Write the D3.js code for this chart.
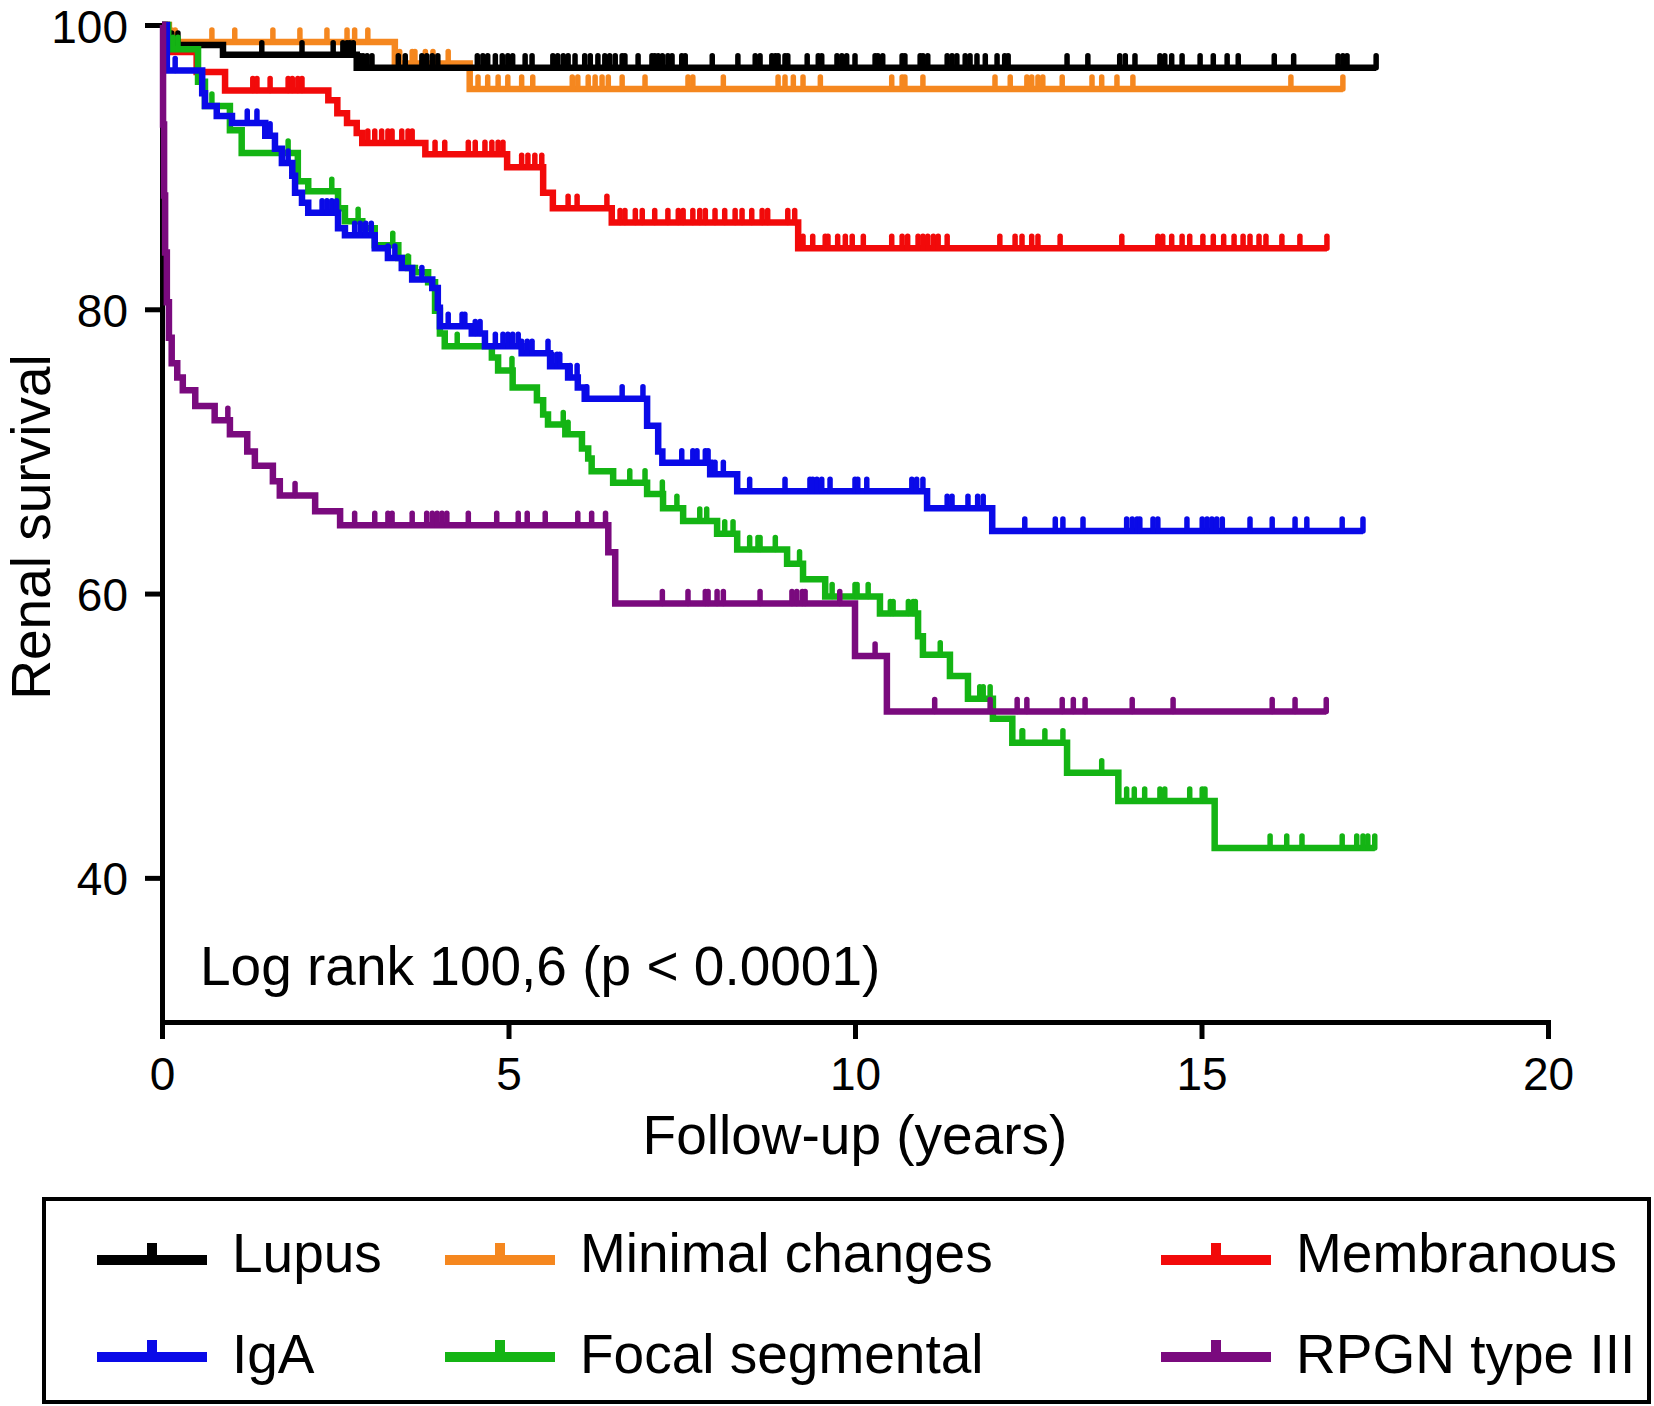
<!DOCTYPE html>
<html>
<head>
<meta charset="utf-8">
<script src="https://cdn.jsdelivr.net/npm/d3@7"></script>
<style>
	body { margin: 0; background: #fff; }
	text { font-family: 'Liberation Sans', Arial, Helvetica, sans-serif; }
</style>
</head>
<body>
<svg id="chart"></svg>
<script>
const groups = ['Lupus', 'Minimal changes', 'Membranous', 'IgA', 'Focal segmental', 'RPGN type III']
const colours = ['#000000', '#f5871f', '#f20a0a', '#0a0ae8', '#14b414', '#7a0a7e']

const xTicks = [0, 5, 10, 15, 20]
const yTicks = [40, 60, 80, 100]
const xTitle = 'Follow-up (years)'
const yTitle = 'Renal survival'
const note = 'Log rank 100,6 (p < 0.0001)'

// Kaplan-Meier steps: time of each drop (years) and survival (%) after it
const lupusTimes = [0, 0.04, 0.88, 2.81]
const lupusSurv = [100, 98.6, 97.9, 97.0]
const lupusEnd = 17.52
const lupusCensored = [0.09, 0.14, 0.23, 1.44, 2.02, 2.47, 2.61, 2.67, 2.71, 2.76, 2.86, 2.9, 2.96, 3.03, 3.41, 3.51, 3.75, 3.82, 3.9, 3.98, 4.55, 4.63, 4.7, 4.81, 4.91, 4.99, 5.06, 5.24, 5.34, 5.64, 5.71, 5.79, 5.86, 5.96, 6.1, 6.18, 6.29, 6.39, 6.46, 6.54, 6.64, 6.68, 6.87, 7.07, 7.11, 7.16, 7.22, 7.3, 7.36, 7.5, 7.55, 7.94, 8.31, 8.56, 8.63, 8.8, 8.85, 8.89, 8.99, 9.03, 9.31, 9.47, 9.52, 9.74, 9.81, 9.88, 10.0, 10.29, 10.33, 10.4, 10.68, 10.72, 10.94, 10.98, 11.05, 11.33, 11.4, 11.47, 11.59, 11.66, 11.76, 11.88, 12.05, 12.16, 12.21, 13.06, 13.36, 13.82, 13.9, 14.04, 14.4, 14.47, 14.57, 14.72, 14.98, 15.17, 15.37, 15.53, 16.05, 16.33, 16.97, 17.04, 17.1, 17.52]

const minimalTimes = [0, 0.1, 3.36, 4.44]
const minimalSurv = [100, 98.8, 97.3, 95.5]
const minimalEnd = 17.04
const minimalCensored = [0.14, 0.19, 0.72, 1.05, 1.6, 1.99, 2.38, 2.67, 2.78, 2.97, 3.43, 3.61, 3.65, 3.8, 3.91, 4.13, 4.56, 4.7, 4.85, 4.99, 5.19, 5.35, 5.92, 6.0, 6.15, 6.25, 6.35, 6.44, 6.64, 6.97, 7.59, 7.66, 8.1, 8.89, 8.99, 9.11, 9.25, 9.5, 10.53, 10.68, 10.72, 10.98, 12.02, 12.24, 12.48, 12.55, 12.64, 12.71, 12.99, 13.42, 13.56, 13.78, 14.01, 16.29, 17.04]

const membranousTimes = [0, 0.07, 0.5, 0.91, 2.4, 2.53, 2.67, 2.81, 2.89, 3.8, 4.98, 5.5, 5.64, 6.49, 9.18]
const membranousSurv = [100, 98.1, 96.7, 95.4, 94.7, 93.8, 93.1, 92.4, 91.7, 90.9, 90.0, 88.2, 87.1, 86.1, 84.3]
const membranousEnd = 16.81
const membranousCensored = [1.31, 1.37, 1.56, 1.82, 1.88, 1.96, 2.02, 2.97, 3.07, 3.17, 3.26, 3.32, 3.46, 3.55, 3.61, 3.94, 4.08, 4.42, 4.52, 4.66, 4.76, 4.85, 4.92, 5.19, 5.28, 5.38, 5.48, 5.86, 5.99, 6.42, 6.61, 6.68, 6.83, 6.93, 7.11, 7.3, 7.45, 7.52, 7.66, 7.76, 7.84, 7.98, 8.12, 8.27, 8.37, 8.51, 8.66, 8.74, 9.03, 9.13, 9.25, 9.39, 9.57, 9.61, 9.75, 9.86, 9.96, 10.12, 10.53, 10.68, 10.76, 10.91, 10.98, 11.05, 11.13, 11.2, 11.33, 12.09, 12.31, 12.41, 12.55, 12.64, 12.96, 13.85, 14.37, 14.44, 14.57, 14.72, 14.83, 15.02, 15.17, 15.32, 15.47, 15.6, 15.7, 15.83, 15.93, 16.16, 16.42, 16.81]

const igaTimes = [0, 0.07, 0.58, 0.62, 0.79, 1.01, 1.49, 1.63, 1.73, 1.88, 1.92, 2.02, 2.11, 2.54, 2.64, 3.07, 3.26, 3.46, 3.61, 3.9, 3.98, 4.01, 4.47, 4.66, 5.19, 5.6, 5.86, 6.0, 6.1, 7.0, 7.16, 7.22, 7.91, 8.3, 11.04, 11.98]
const igaSurv = [100, 96.8, 95.2, 94.3, 93.6, 93.1, 92.2, 91.3, 90.3, 89.4, 88.2, 87.5, 86.8, 85.7, 85.2, 84.3, 83.6, 82.9, 82.1, 81.5, 80.1, 78.8, 78.3, 77.4, 76.9, 76.0, 75.2, 74.5, 73.7, 71.8, 70.0, 69.2, 68.4, 67.2, 66.0, 64.4]
const igaEnd = 17.33
const igaCensored = [0.19, 1.23, 1.37, 1.5, 1.56, 1.82, 1.92, 2.31, 2.38, 2.45, 2.52, 2.78, 2.86, 2.94, 3.02, 3.26, 3.36, 3.75, 4.13, 4.33, 4.37, 4.52, 4.59, 4.81, 4.92, 4.99, 5.06, 5.14, 5.19, 5.27, 5.34, 5.57, 5.63, 5.7, 5.74, 5.89, 5.99, 6.13, 6.64, 6.94, 7.5, 7.66, 7.72, 7.84, 7.88, 7.98, 8.1, 8.48, 8.99, 9.35, 9.39, 9.45, 9.52, 9.64, 10.0, 10.04, 10.17, 10.82, 10.89, 10.98, 11.33, 11.4, 11.63, 11.77, 11.85, 12.45, 12.89, 13.0, 13.29, 13.92, 14.0, 14.07, 14.11, 14.3, 14.37, 14.79, 15.01, 15.08, 15.15, 15.22, 15.3, 15.7, 16.02, 16.35, 16.52, 17.03, 17.33]

const focalTimes = [0, 0.09, 0.52, 0.62, 0.98, 1.15, 1.96, 2.11, 2.54, 2.64, 2.89, 3.07, 3.41, 3.55, 3.65, 3.84, 3.94, 4.01, 4.08, 4.76, 4.85, 5.06, 5.41, 5.5, 5.57, 5.82, 6.06, 6.15, 6.2, 6.51, 7.0, 7.23, 7.52, 8.01, 8.3, 9.02, 9.25, 9.57, 10.36, 10.91, 10.98, 11.37, 11.63, 11.99, 12.27, 13.06, 13.8, 15.19]
const focalSurv = [100, 98.3, 96.0, 94.3, 92.6, 91.0, 89.0, 88.3, 87.1, 86.2, 85.7, 84.5, 83.6, 82.9, 82.6, 81.9, 79.9, 78.3, 77.4, 76.6, 75.7, 74.5, 73.6, 72.6, 71.9, 71.2, 70.2, 69.5, 68.6, 67.8, 67.0, 66.0, 65.1, 64.2, 63.1, 62.1, 61.0, 59.8, 58.6, 57.0, 55.7, 54.2, 52.6, 51.2, 49.5, 47.4, 45.4, 42.1]
const focalEnd = 17.5
const focalCensored = [0.16, 0.23, 0.72, 0.98, 1.82, 2.45, 2.83, 3.33, 3.55, 4.26, 5.05, 5.79, 5.86, 6.75, 6.97, 7.22, 7.43, 7.76, 7.86, 8.12, 8.24, 8.48, 8.6, 8.63, 8.85, 9.2, 9.67, 10.0, 10.03, 10.19, 10.51, 10.55, 10.77, 10.84, 10.87, 11.23, 11.8, 11.85, 11.95, 12.41, 12.42, 12.74, 13.0, 13.56, 13.92, 14.03, 14.18, 14.4, 14.47, 14.83, 15.01, 15.05, 15.99, 16.23, 16.45, 17.03, 17.24, 17.33, 17.4, 17.5]

const rpgnTimes = [0, 0.015, 0.03, 0.045, 0.07, 0.1, 0.14, 0.22, 0.3, 0.48, 0.76, 0.98, 1.23, 1.34, 1.6, 1.7, 2.21, 2.57, 6.44, 6.54, 10.0, 10.46]
const rpgnSurv = [100, 93, 88, 84, 80.5, 78, 76.2, 75.2, 74.3, 73.2, 72.2, 71.2, 70.0, 69.0, 67.9, 66.9, 65.8, 64.8, 62.9, 59.3, 55.6, 51.7]
const rpgnEnd = 16.8
const rpgnCensored = [0.95, 1.92, 2.78, 3.07, 3.26, 3.32, 3.61, 3.82, 3.9, 3.97, 4.04, 4.11, 4.42, 4.83, 5.14, 5.27, 5.53, 6.0, 6.2, 6.4, 7.22, 7.59, 7.84, 7.88, 8.01, 8.1, 8.63, 9.09, 9.16, 9.24, 9.28, 9.78, 10.29, 11.15, 11.95, 12.34, 12.48, 12.99, 13.15, 13.32, 14.0, 14.59, 16.02, 16.35, 16.8]

var series = [
	{ times: lupusTimes, surv: lupusSurv, end: lupusEnd, censored: lupusCensored },
	{ times: minimalTimes, surv: minimalSurv, end: minimalEnd, censored: minimalCensored },
	{ times: membranousTimes, surv: membranousSurv, end: membranousEnd, censored: membranousCensored },
	{ times: igaTimes, surv: igaSurv, end: igaEnd, censored: igaCensored },
	{ times: focalTimes, surv: focalSurv, end: focalEnd, censored: focalCensored },
	{ times: rpgnTimes, surv: rpgnSurv, end: rpgnEnd, censored: rpgnCensored },
].map((s, i) => ({ ...s, name: groups[i], colour: colours[i] }))

var width = 1654,
	height = 1406

var svg = d3.select('#chart').attr('width', width).attr('height', height)

var x = d3.scaleLinear().domain([0, 20]).range([162, 1548])
var y = d3.scaleLinear().domain([30, 100]).range([1020, 25])

// axes
var yAxis = svg
	.append('g')
	.attr('transform', 'translate(162,0)')
	.call(d3.axisLeft(y).tickValues(yTicks).tickSize(17).tickPadding(17).tickSizeOuter(0))
var xAxis = svg
	.append('g')
	.attr('transform', 'translate(0,1022)')
	.call(d3.axisBottom(x).tickValues(xTicks).tickSize(17).tickPadding(18).tickSizeOuter(0))

;[xAxis, yAxis].forEach((a) => {
	a.select('.domain').attr('stroke', '#000').attr('stroke-width', 5).attr('stroke-linecap', 'square')
	a.selectAll('.tick line').attr('stroke', '#000').attr('stroke-width', 5)
	a.selectAll('.tick text')
		.attr('fill', '#000')
		.attr('font-size', 46)
		.attr('font-family', "'Liberation Sans', Arial, sans-serif")
})
yAxis.selectAll('.tick text').attr('dy', '0.37em')

svg.append('text')
	.attr('x', x(10))
	.attr('y', 1154)
	.attr('text-anchor', 'middle')
	.attr('font-size', 55)
	.text(xTitle)

svg.append('text')
	.attr('transform', 'translate(50,527) rotate(-90)')
	.attr('text-anchor', 'middle')
	.attr('font-size', 55)
	.text(yTitle)

svg.append('text').attr('x', 200).attr('y', 985).attr('font-size', 55).text(note)

// curves
var line = d3
	.line()
	.x((d) => x(d[0]))
	.y((d) => y(d[1]))
	.curve(d3.curveStepAfter)

function levelAt(s, t) {
	var i = d3.bisectRight(s.times, t) - 1
	return s.surv[Math.max(i, 0)]
}

var drawOrder = [1, 0, 2, 4, 3, 5]
drawOrder.forEach((k) => {
	var s = series[k]
	var pts = s.times.map((t, i) => [t, s.surv[i]])
	pts.push([s.end, s.surv[s.surv.length - 1]])

	var g = svg.append('g').attr('class', 'curve')
	g.append('path')
		.attr('d', line(pts))
		.attr('fill', 'none')
		.attr('stroke', s.colour)
		.attr('stroke-width', 6.5)

	g.selectAll('.censor')
		.data(s.censored)
		.join('line')
		.attr('class', 'censor')
		.attr('x1', (d) => x(d))
		.attr('x2', (d) => x(d))
		.attr('y1', (d) => y(levelAt(s, d)))
		.attr('y2', (d) => y(levelAt(s, d)) - 12)
		.attr('stroke', s.colour)
		.attr('stroke-width', 5.5)
		.attr('stroke-linecap', 'round')
})

// legend
var legendX = [97, 445, 1161]
var legendLineY = [1260, 1357]
var legendTextY = [1272, 1373]

svg.append('rect')
	.attr('x', 44)
	.attr('y', 1199)
	.attr('width', 1605)
	.attr('height', 203)
	.attr('fill', 'none')
	.attr('stroke', '#000')
	.attr('stroke-width', 4)

var items = svg
	.selectAll('.legend')
	.data(series)
	.join('g')
	.attr('class', 'legend')
	.attr('transform', (d, i) => 'translate(' + legendX[i % 3] + ',0)')

items.append('line')
	.attr('x1', 0)
	.attr('x2', 110)
	.attr('y1', (d, i) => legendLineY[Math.floor(i / 3)])
	.attr('y2', (d, i) => legendLineY[Math.floor(i / 3)])
	.attr('stroke', (d) => d.colour)
	.attr('stroke-width', 10)

items.append('line')
	.attr('x1', 55)
	.attr('x2', 55)
	.attr('y1', (d, i) => legendLineY[Math.floor(i / 3)])
	.attr('y2', (d, i) => legendLineY[Math.floor(i / 3)] - 17)
	.attr('stroke', (d) => d.colour)
	.attr('stroke-width', 10)

items.append('text')
	.attr('x', 135)
	.attr('y', (d, i) => legendTextY[Math.floor(i / 3)])
	.attr('font-size', 55)
	.text((d) => d.name)
</script>
</body>
</html>
